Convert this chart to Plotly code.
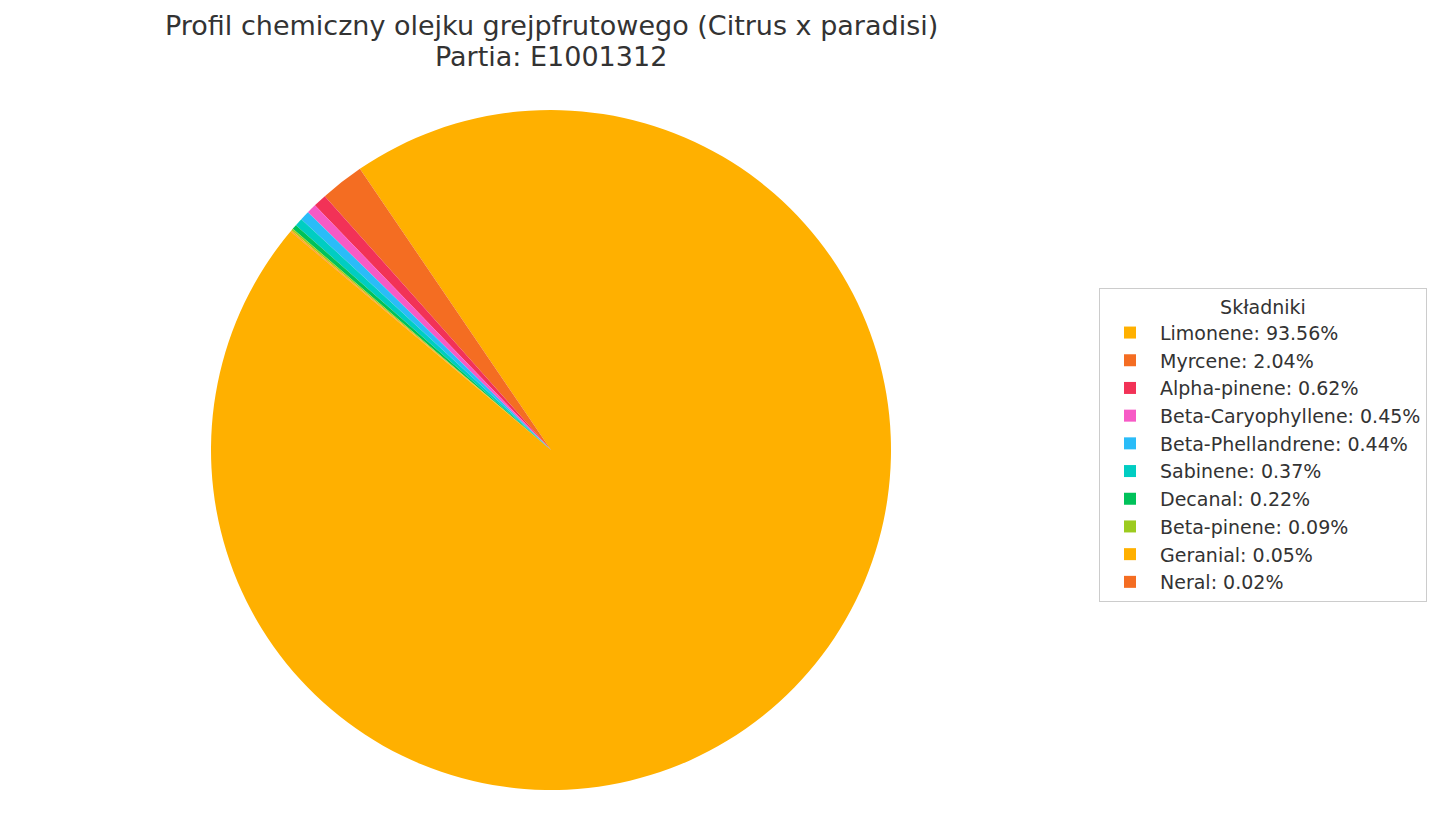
import plotly.graph_objects as go

# skład olejku (procenty)
components = ['Limonene', 'Myrcene', 'Alpha-pinene', 'Beta-Caryophyllene', 'Beta-Phellandrene',
              'Sabinene', 'Decanal', 'Beta-pinene', 'Geranial', 'Neral']
percent = [93.56, 2.04, 0.62, 0.45, 0.44, 0.37, 0.22, 0.09, 0.05, 0.02]
colors = ['#FFB000', '#F46D22', '#F23257', '#F75AC6', '#2ABCF8',
          '#00CDC2', '#00C25A', '#9CCB1F', '#FFB000', '#F46D22']

legend_labels = [f'{c}: {p:.2f}%' for c, p in zip(components, percent)]

# strona ma 8px marginesu body, wiec figura jest mniejsza o 16px
W, H = 1429, 822
OFF = 8


def px_x(x):
    return (x - OFF) / W


def px_y(y):
    return 1 - (y - OFF) / H


fig = go.Figure(
    data=[
        go.Pie(
            labels=legend_labels,
            values=percent,
            sort=False,
            direction='counterclockwise',
            rotation=-34.2,
            textinfo='none',
            hoverinfo='label',
            marker=dict(colors=colors, line=dict(width=0)),
            domain=dict(x=[px_x(211), px_x(891)], y=[px_y(790), px_y(110)]),
        )
    ],
    layout=go.Layout(
        width=W,
        height=H,
        paper_bgcolor='white',
        plot_bgcolor='white',
        margin=dict(l=0, r=0, t=0, b=0),
        font=dict(family='DejaVu Sans', color='#333333'),
        legend=dict(
            title=dict(text='Składniki', side='top center', font=dict(size=19)),
            font=dict(size=19, color='#333333'),
            x=px_x(1099),
            xanchor='left',
            y=px_y(288),
            yanchor='top',
            bordercolor='#cccccc',
            borderwidth=1,
            bgcolor='white',
            itemwidth=50,
        ),
    ),
)

fig.add_annotation(text='Profil chemiczny olejku grejpfrutowego (Citrus x paradisi)',
                   x=px_x(551), y=px_y(26), xref='paper', yref='paper',
                   xanchor='center', yanchor='middle', showarrow=False,
                   font=dict(size=27, color='#333333'))
fig.add_annotation(text='Partia: E1001312',
                   x=px_x(551), y=px_y(56), xref='paper', yref='paper',
                   xanchor='center', yanchor='middle', showarrow=False,
                   font=dict(size=27, color='#333333'))

fig.write_html('out.html')
